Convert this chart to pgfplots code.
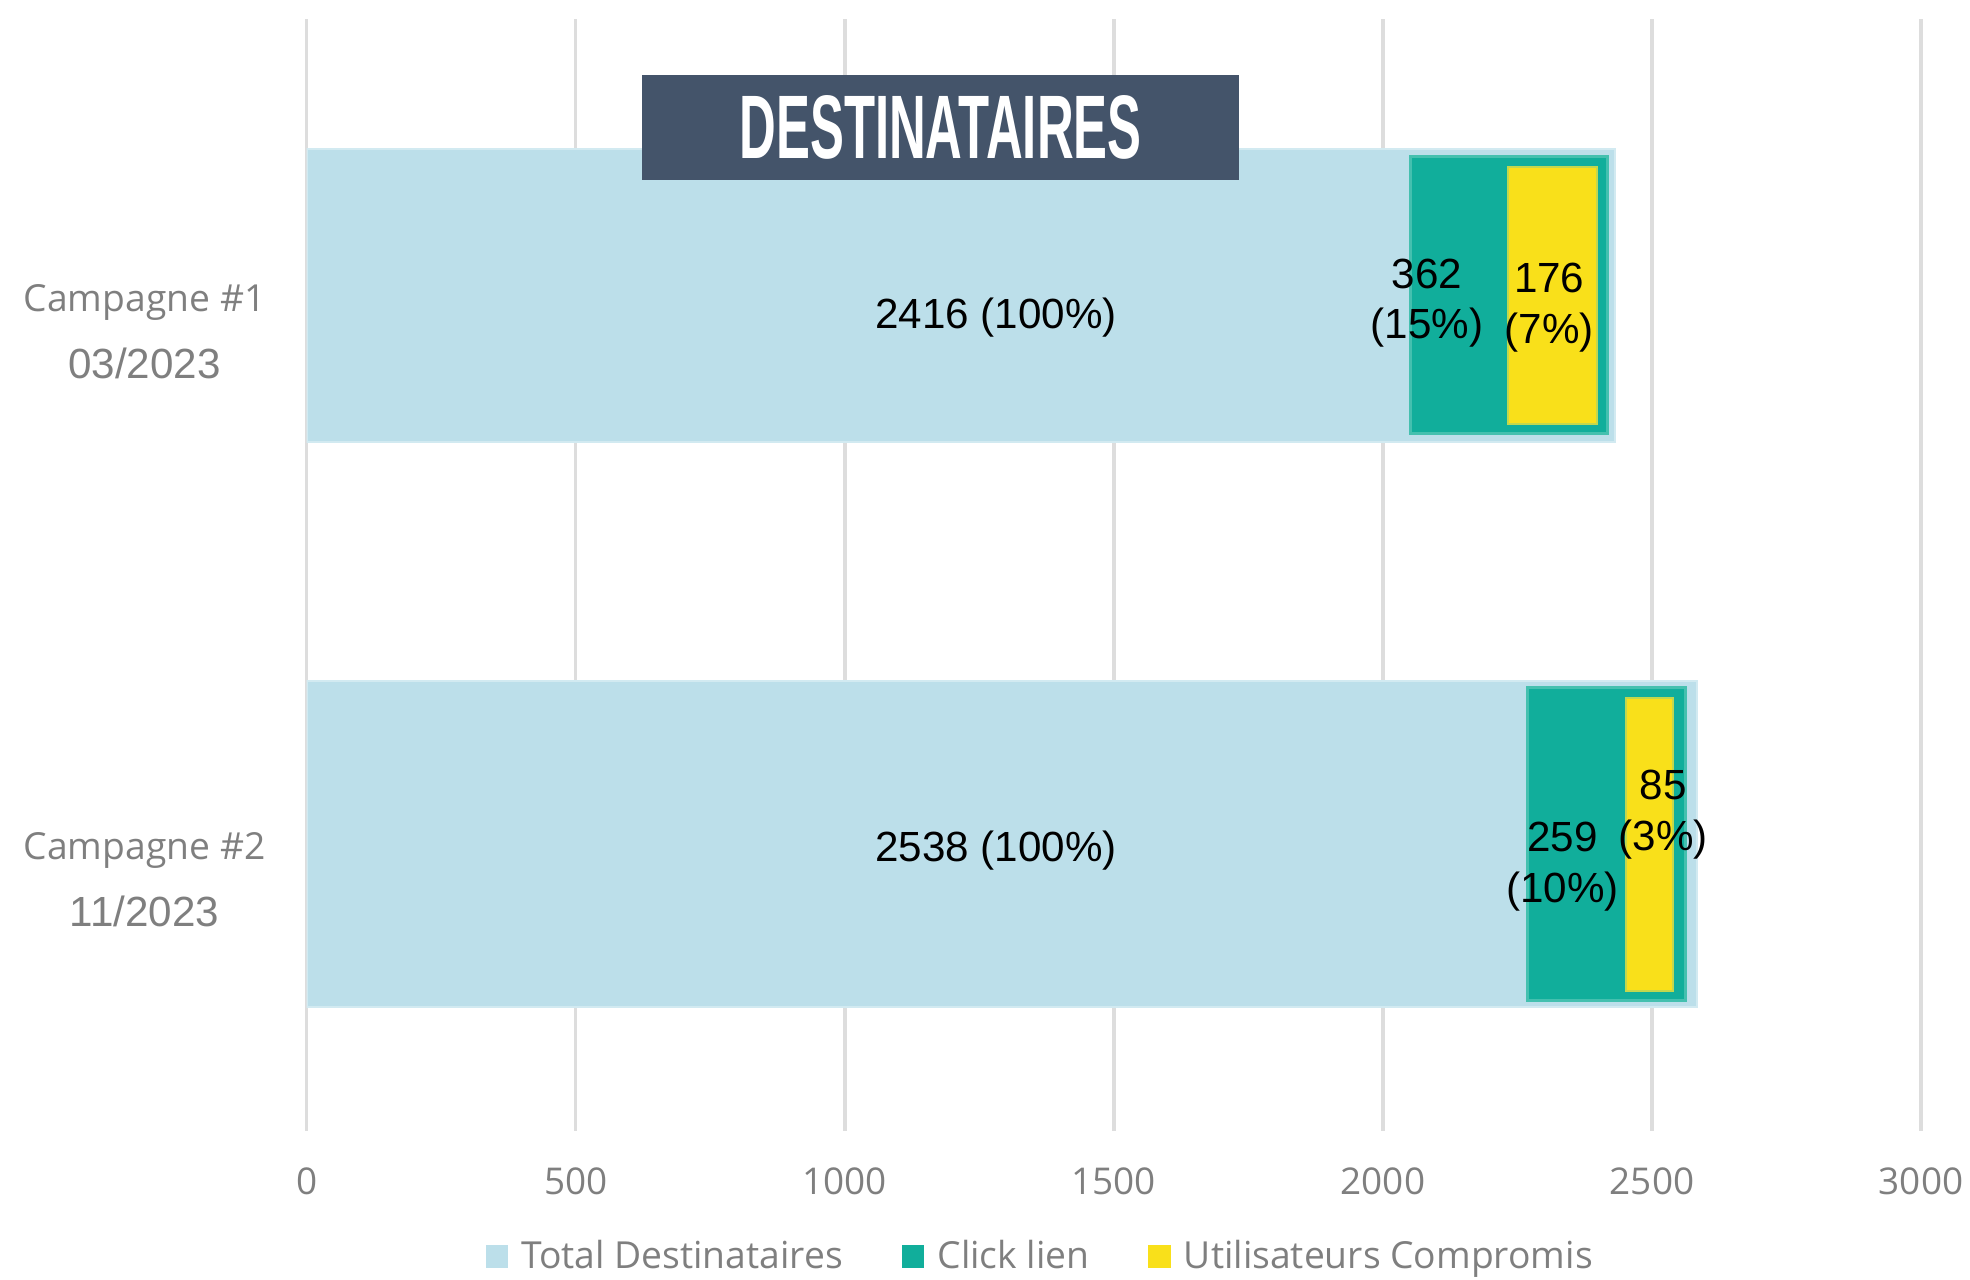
\documentclass[border=0pt]{standalone}
\usepackage{pgfplots}
\pgfplotsset{compat=1.18}
\usepackage{fontspec}
\setmainfont{Liberation Sans}
\newfontfamily\opensans{Open Sans}
\definecolor{cblue}{HTML}{BCDFEA}
\definecolor{cblueedge}{HTML}{D2EAF1}
\definecolor{cgreen}{HTML}{11AE9B}
\definecolor{cgreenedge}{HTML}{44C0AF}
\definecolor{cyellow}{HTML}{F9E01A}
\definecolor{cyellowedge}{HTML}{C2D74E}
\definecolor{ctitle}{HTML}{44546A}
\definecolor{cgrid}{HTML}{DDDDDD}
\definecolor{ctext}{HTML}{7F7F7F}
\pgfplotsset{
  lay/.style={scale only axis, width=16.145cm, height=11.12cm,
    xmin=0, xmax=3000, ymin=-0.523, ymax=1.504, enlargelimits=false,
    at={(3.066cm,1.49cm)}, anchor=south west},
  hid/.style={lay, hide axis, xbar stacked, clip=false},
}
\tikzset{lbl/.style={font=\fontsize{12}{14.5}\selectfont, align=center, text=black, inner sep=0pt}}
\begin{document}
\begin{tikzpicture}
\useasboundingbox (0,0) rectangle (19.7cm,12.8cm);
% main axis: grid, ticks, blue bars, legend
\begin{axis}[lay,
  axis line style={draw=none}, major tick length=0pt,
  xtick={0,500,...,3000}, xmajorgrids, grid style={cgrid, line width=0.035cm},
  ytick={0,1},
  yticklabels={{{\opensans\fontsize{10.6}{19}\selectfont Campagne \#2}\\11/2023},
               {{\opensans\fontsize{10.6}{19}\selectfont Campagne \#1}\\03/2023}},
  /pgf/number format/assume math mode=true,
  /pgf/number format/1000 sep={},
  xticklabel style={font=\opensans\fontsize{10.5}{12}\selectfont, text=ctext, anchor=center, yshift=-0.5cm},
  yticklabel style={font=\fontsize{12}{19}\selectfont, text=ctext, anchor=center, align=center, xshift=-1.62cm, yshift=-0.36cm},
  legend style={draw=none, fill=none, at={(0.456,-0.113)}, anchor=center,
    legend columns=3, font=\opensans\fontsize{10.6}{12}\selectfont, text=ctext,
    /tikz/every even column/.append style={column sep=0.52cm}},
  legend cell align=left,
]
\addplot[xbar, bar shift=0pt, bar width=0.534, fill=cblue, draw=cblueedge, line width=0.02cm, forget plot] coordinates {(2431,1)};
\addplot[xbar, bar shift=0pt, bar width=0.594, fill=cblue, draw=cblueedge, line width=0.02cm, forget plot] coordinates {(2584,0)};
\addlegendimage{legend image code/.code={\fill[cblue] (0cm,-0.11cm) rectangle (0.21cm,0.11cm); \path (0.27cm,0cm);}}
\addlegendentry{Total Destinataires}
\addlegendimage{legend image code/.code={\fill[cgreen] (0cm,-0.11cm) rectangle (0.21cm,0.11cm); \path (0.27cm,0cm);}}
\addlegendentry{Click lien}
\addlegendimage{legend image code/.code={\fill[cyellow] (0cm,-0.11cm) rectangle (0.21cm,0.11cm); \path (0.27cm,0cm);}}
\addlegendentry{Utilisateurs Compromis}
\end{axis}
% Campagne 1 : Click lien
\begin{axis}[hid]
\addplot[bar shift=0pt, bar width=0.505, draw=none, fill=none] coordinates {(2052,1)};
\addplot[bar shift=0pt, bar width=0.505, fill=cgreen, draw=cgreenedge, line width=0.03cm] coordinates {(366,1)};
\end{axis}
% Campagne 1 : Utilisateurs compromis
\begin{axis}[hid]
\addplot[bar shift=0pt, bar width=0.469, draw=none, fill=none] coordinates {(2232,1)};
\addplot[bar shift=0pt, bar width=0.469, fill=cyellow, draw=cyellowedge, line width=0.02cm] coordinates {(166,1)};
\end{axis}
% Campagne 2 : Click lien
\begin{axis}[hid]
\addplot[bar shift=0pt, bar width=0.569, draw=none, fill=none] coordinates {(2268,0)};
\addplot[bar shift=0pt, bar width=0.569, fill=cgreen, draw=cgreenedge, line width=0.03cm] coordinates {(295,0)};
\end{axis}
% Campagne 2 : Utilisateurs compromis
\begin{axis}[hid]
\addplot[bar shift=0pt, bar width=0.534, draw=none, fill=none] coordinates {(2452,0)};
\addplot[bar shift=0pt, bar width=0.534, fill=cyellow, draw=cyellowedge, line width=0.02cm] coordinates {(87,0)};
\end{axis}
% value labels, on top of every bar
\begin{axis}[lay, hide axis, clip=false]
\node[lbl] at (axis cs:1281,0.959) {2416 (100\%)};
\node[lbl] at (axis cs:1281,-0.012) {2538 (100\%)};
\node[lbl] at (axis cs:2082,0.986) {362\\(15\%)};
\node[lbl] at (axis cs:2309,0.977) {176\\(7\%)};
\node[lbl] at (axis cs:2334,-0.041) {259\\(10\%)};
\node[lbl] at (axis cs:2521,0.053) {85\\(3\%)};
\end{axis}
\node[fill=ctitle, minimum width=5.97cm, minimum height=1.05cm, inner sep=0pt, text=white]
  at (9.405cm,11.525cm) {\resizebox{4.02cm}{0.63cm}{\bfseries DESTINATAIRES}};
\end{tikzpicture}
\end{document}
